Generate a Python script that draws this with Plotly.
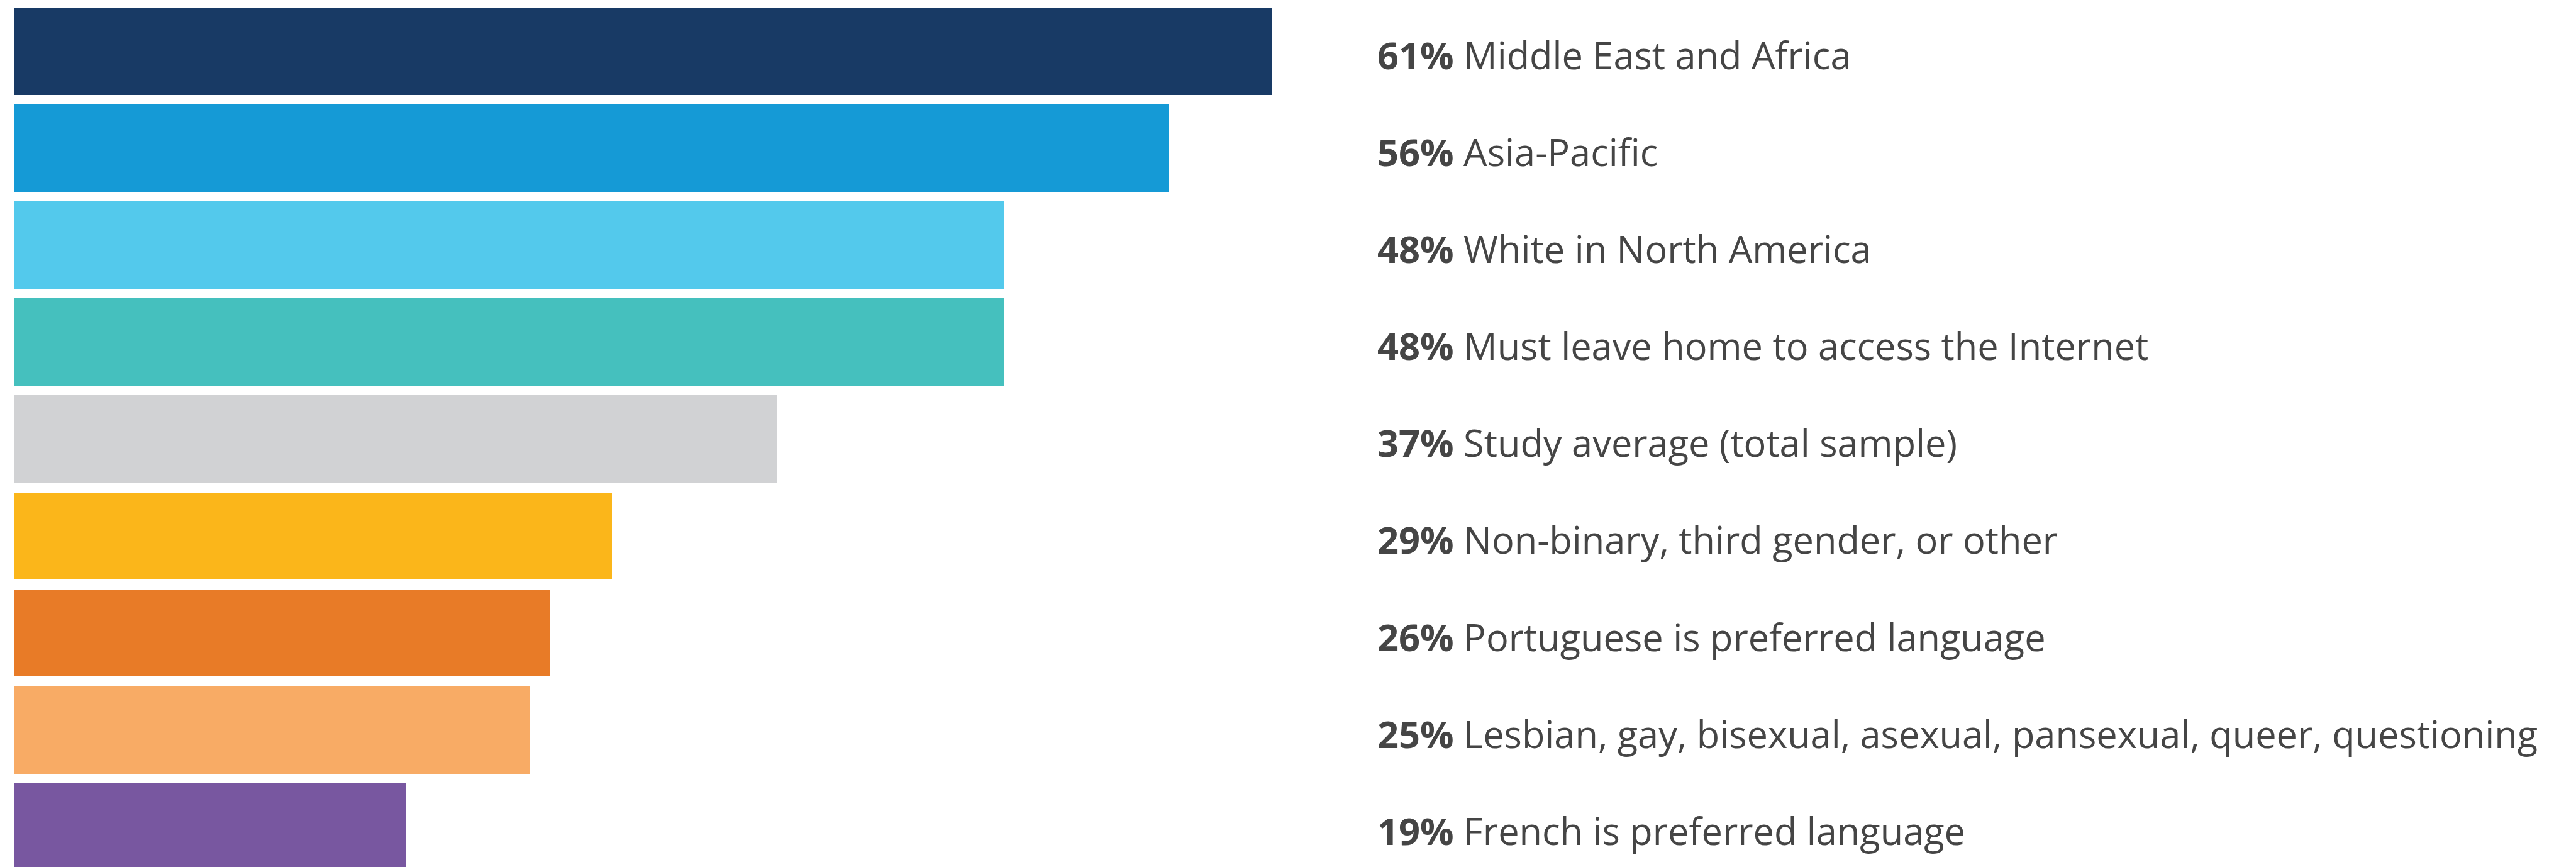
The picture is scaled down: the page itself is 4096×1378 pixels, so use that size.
import plotly.graph_objects as go

categories = [
    "Middle East and Africa",
    "Asia-Pacific",
    "White in North America",
    "Must leave home to access the Internet",
    "Study average (total sample)",
    "Non-binary, third gender, or other",
    "Portuguese is preferred language",
    "Lesbian, gay, bisexual, asexual, pansexual, queer, questioning",
    "French is preferred language",
]
values = [61, 56, 48, 48, 37, 29, 26, 25, 19]
colors = ["#183A65", "#159AD6", "#53C9EC", "#45C0BE", "#D1D2D4",
          "#FBB61A", "#E87B27", "#F8AB65", "#7857A0"]

# page body has an 8px default margin
OFF = 8
W, H = 4096 - OFF, 1378 - OFF
S = 0.861
left_px = 26 * S - OFF
px_per_unit = 38.07 * S
pitch = 179 * S
first_center = (14 + 80.5) * S - OFF

positions = list(range(len(categories)))

fig = go.Figure()
fig.add_trace(go.Bar(
    x=values, y=positions, orientation="h",
    marker=dict(color=colors, line=dict(width=0)),
    width=0.9, hoverinfo="skip", showlegend=False,
))

label_x = (2541 * S - OFF - left_px) / px_per_unit
for pos, v, c in zip(positions, values, categories):
    fig.add_annotation(
        x=label_x, y=pos, xref="x", yref="y",
        text=f"<b>{v}%</b> {c}", showarrow=False,
        xanchor="left", yanchor="middle", yshift=-5,
        font=dict(family="Open Sans", size=59.5, color="#454545"),
    )

x0 = -left_px / px_per_unit
x1 = x0 + W / px_per_unit
y_top = -first_center / pitch
y_bot = y_top + H / pitch

fig.update_layout(
    width=W, height=H,
    margin=dict(l=0, r=0, t=0, b=0),
    paper_bgcolor="white", plot_bgcolor="white",
    xaxis=dict(range=[x0, x1], visible=False, fixedrange=True),
    yaxis=dict(range=[y_bot, y_top], visible=False, fixedrange=True),
    bargap=0,
)

fig.write_html("out.html")
